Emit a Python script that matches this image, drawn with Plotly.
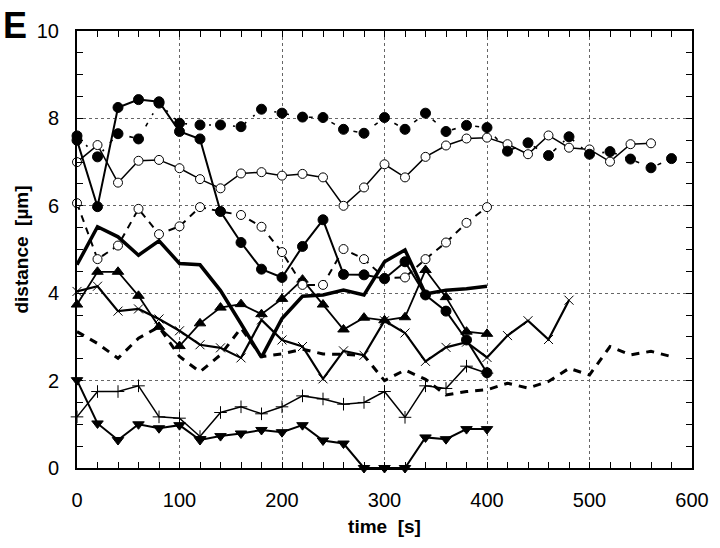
import plotly.graph_objects as go

# time axis (s), sampled every 20 s
t_400 = [0, 20, 40, 60, 80, 100, 120, 140, 160, 180, 200, 220, 240, 260, 280, 300, 320, 340, 360, 380, 400]
t_480 = t_400 + [420, 440, 460, 480]
t_560 = t_400 + [420, 440, 460, 480, 500, 520, 540, 560]
t_580 = t_560 + [580]

# filled circles, thin solid line
filled_solid = [7.5, 5.98, 8.25, 8.43, 8.38, 7.7, 7.53, 5.87, 5.16, 4.55, 4.36, 5.07, 5.68, 4.43, 4.42, 4.33, 4.72, 3.96, 3.59, 2.93, 2.18]
# filled circles, dash-dot line
filled_dashdot = [7.6, 7.12, 7.65, 7.53, 8.35, 7.89, 7.85, 7.85, 7.81, 8.21, 8.12, 8.03, 8.02, 7.75, 7.66, 8.02, 7.75, 8.12, 7.70, 7.84, 7.79,
                  7.25, 7.44, 7.15, 7.58, 7.18, 7.24, 7.07, 6.87, 7.08]
# open circles, thin solid line
open_solid = [7.0, 7.39, 6.53, 7.03, 7.05, 6.86, 6.61, 6.40, 6.74, 6.77, 6.69, 6.73, 6.65, 6.0, 6.42, 6.95, 6.65, 7.12, 7.38, 7.54, 7.56,
              7.41, 7.18, 7.61, 7.33, 7.29, 7.01, 7.41, 7.43]
# open circles, dashed line
open_dashed = [6.06, 4.78, 5.09, 5.93, 5.35, 5.53, 5.97, 5.87, 5.79, 5.52, 4.94, 4.19, 4.19, 5.01, 4.78, 4.35, 4.36, 4.78, 5.16, 5.61, 5.97]
# thick solid line, no markers
thick_solid = [4.65, 5.52, 5.29, 4.87, 5.2, 4.68, 4.65, 4.06, 3.3, 2.53, 3.42, 3.93, 3.96, 4.07, 3.96, 4.72, 4.99, 3.98, 4.07, 4.1, 4.16]
# triangles up
tri_up = [3.74, 4.49, 4.49, 3.94, 3.23, 2.79, 3.31, 3.67, 3.75, 3.52, 3.87, 4.31, 3.74, 3.17, 3.44, 3.38, 3.45, 4.53, 3.91, 3.12, 3.07]
# x markers
x_marks = [4.04, 4.16, 3.59, 3.64, 3.41, 3.14, 2.82, 2.75, 2.52, 3.39, 2.93, 2.78, 2.04, 2.68, 2.58, 3.37, 3.09, 2.44, 2.76, 2.88, 2.53,
           3.03, 3.37, 2.94, 3.84]
# thick dashed line, no markers
thick_dashed = [3.12, 2.85, 2.51, 2.97, 3.23, 2.55, 2.2, 2.59, 3.2, 2.55, 2.61, 2.72, 2.61, 2.6, 2.57, 2.0, 2.24, 2.03, 1.67, 1.75, 1.79,
                1.94, 1.83, 1.98, 2.28, 2.13, 2.78, 2.59, 2.67, 2.55]
# plus markers
plus_marks = [1.17, 1.75, 1.75, 1.88, 1.17, 1.14, 0.72, 1.27, 1.4, 1.24, 1.4, 1.65, 1.58, 1.46, 1.5, 1.75, 1.16, 1.88, 1.82, 2.33, 2.17]
# triangles down
tri_down = [2.01, 1.02, 0.64, 1.0, 0.91, 0.98, 0.64, 0.73, 0.79, 0.87, 0.82, 0.98, 0.63, 0.56, 0.0, 0.0, 0.0, 0.7, 0.66, 0.89, 0.89]

x_ticks = [0, 100, 200, 300, 400, 500, 600]
y_ticks = [0, 2, 4, 6, 8, 10]

FONT = "Liberation Sans, Arial, Helvetica, sans-serif"
K = "black"

fig = go.Figure()


def add(x, y, width=1.5, dash="solid", symbol=None, size=8, fill=True, mline=1):
    mode = "lines+markers" if symbol else "lines"
    marker = None
    if symbol:
        marker = dict(symbol=symbol, size=size, color=K if fill else "white",
                      line=dict(color=K, width=mline))
    fig.add_trace(go.Scatter(x=x, y=y, mode=mode, cliponaxis=False,
                             line=dict(color=K, width=width, dash=dash),
                             marker=marker, showlegend=False, hoverinfo="skip"))


add(t_580, thick_dashed, width=3, dash="8px,7px")
add(t_400, plus_marks, width=1.5, symbol="cross-thin", size=9, mline=1)
add(t_400, tri_down, width=2, symbol="triangle-down", size=10)
add(t_480, x_marks, width=2.2, symbol="x-thin", size=9, mline=1)
add(t_400, tri_up, width=1.8, symbol="triangle-up", size=10)
add(t_400, thick_solid, width=3.5)
add(t_400, open_dashed, width=2, dash="7px,6px", symbol="circle", size=9, fill=False)
add(t_560, open_solid, width=1.5, symbol="circle", size=9, fill=False)
add(t_580, filled_dashdot, width=1.6, dash="4px,9px,2px,9px", symbol="circle", size=10)
add(t_400, filled_solid, width=2, symbol="circle", size=10)

axis_common = dict(
    showline=True, linecolor=K, linewidth=2, mirror="ticks",
    ticks="inside", ticklen=6, tickwidth=1, tickcolor=K,
    showgrid=True, gridcolor="#666666", griddash="dot", gridwidth=1,
    zeroline=False,
    tickfont=dict(family=FONT, size=20, color=K),
)

fig.update_xaxes(
    range=[0, 600], tickvals=x_ticks, ticklabelstandoff=13,
    minor=dict(dtick=20, tick0=0, ticks="inside", ticklen=6, tickcolor=K, showgrid=False),
    title=dict(text="<b>time \u00a0[s]</b>", font=dict(family=FONT, size=19, color=K), standoff=10),
    automargin=False, **axis_common)
fig.update_yaxes(
    range=[0, 10], tickvals=y_ticks, ticklabelstandoff=12,
    minor=dict(dtick=0.5, tick0=0, ticks="inside", ticklen=6, tickcolor=K, showgrid=False),
    title=dict(text="<b>distance \u00a0[\u00b5m]</b>", font=dict(family=FONT, size=19, color=K), standoff=3),
    automargin=False, **axis_common)

fig.add_annotation(text="<b>E</b>", xref="paper", yref="paper", x=-0.123, y=1.064,
                   xanchor="left", yanchor="top", showarrow=False,
                   font=dict(family=FONT, size=36, color=K))

fig.update_layout(
    width=720, height=548,
    margin=dict(l=77, r=28, t=31, b=80),
    paper_bgcolor="white", plot_bgcolor="white",
    font=dict(family=FONT, color=K),
)

fig.write_html("out.html", config={"displayModeBar": False, "staticPlot": True},
               post_script="document.body.style.margin='0px';document.body.style.padding='0px';")
